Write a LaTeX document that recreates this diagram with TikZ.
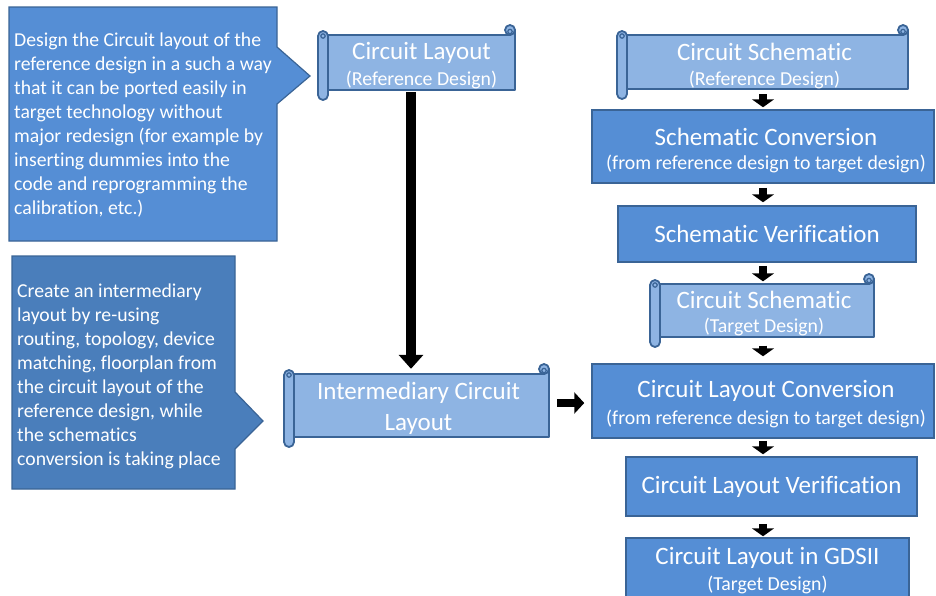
\documentclass[tikz,border=0pt]{standalone}
\usepackage{fontspec}
\setmainfont{Carlito}[Ligatures=NoCommon]
\usetikzlibrary{arrows.meta,calc}
\definecolor{boxblue}{HTML}{558ED5}
\definecolor{callA}{HTML}{558ED5}
\definecolor{callB}{HTML}{4A7EBB}
\definecolor{scrollblue}{HTML}{8EB4E3}
\definecolor{edgeblue}{HTML}{3A6496}
\newcommand{\mytitle}{\fontsize{25}{27}\selectfont}
\newcommand{\mysub}{\fontsize{19.8}{27}\selectfont}
\newcommand{\scrollshape}[4]{%
  \draw[scrollbody] (#1+10,#2+10) -- (#3-5,#2+10) -- (#3,#2+5) -- (#3,#4-10) -- (#1+10,#4-10) -- cycle;
  \draw[scrollbody] (#3-5,#2+5) circle[radius=5];
  \draw[scrollcurl] (#3-5,#2+6.5) circle[radius=2.2];
  \draw[scrollbody, rounded corners=5pt] (#1,#2+6) rectangle (#1+10,#4);
  \draw[scrollcurl] (#1+5,#2+11) circle[radius=2.2];
}
\tikzset{
  scrollbody/.style={draw=edgeblue, line width=1.8pt, fill=scrollblue, line join=round},
  scrollcurl/.style={draw=edgeblue, line width=1.2pt, fill=scrollblue},
  procbox/.style={draw=edgeblue, line width=1.5pt, fill=boxblue, inner sep=0pt},
  scrollarea/.style={inner sep=0pt},
  boxtext/.style={inner sep=0pt, text=white, align=center},
  calloutshape/.style={draw=edgeblue, line width=1.2pt, line join=miter},
  callouttext/.style={inner sep=0pt, text=white, align=left, anchor=north west, font=\fontsize{19.7}{24}\selectfont},
  smallarrow/.style={line width=8pt, draw=black, -{Triangle[width=22pt,length=8pt]}},
  medarrow/.style={line width=8pt, draw=black, -{Triangle[width=21pt,length=10pt]}},
  bigarrow/.style={line width=10pt, draw=black, -{Triangle[width=24pt,length=14pt]}},
}
\begin{document}
\begin{tikzpicture}[x=1pt,y=-1pt]
\useasboundingbox (0,0) rectangle (936,595);
\clip (0,0) rectangle (936,595);
\fill[white] (0,0) rectangle (936,595);

% callouts
\draw[calloutshape, fill=callA] (9,7) -- (277,7) -- (277,47) -- (310,76) -- (277,104) -- (277,241) -- (9,241) -- cycle;
\node[callouttext] (c1) at (14,33) {Design the Circuit layout of the\\reference design in a such a way\\that it can be ported easily in\\target technology without\\major redesign (for example by\\inserting dummies into the\\code and reprogramming the\\calibration, etc.)};

\draw[calloutshape, fill=callB] (12,256) -- (235,256) -- (235,392) -- (263,421) -- (235,449) -- (235,489) -- (12,489) -- cycle;
\node[callouttext] (c2) at (17,284) {Create an intermediary\\layout by re-using\\routing, topology, device\\matching, floorplan from\\the circuit layout of the\\reference design, while\\the schematics\\conversion is taking place};

% scrolls
\scrollshape{318}{25}{515}{100}
\node[scrollarea, minimum width=187pt, minimum height=55pt] (s1) at (421.5,62.5) {};
\node[boxtext] (s1t) at ($(s1.center)+(0,3)$) {\mytitle Circuit Layout\\[7pt]\mysub (Reference Design)};

\scrollshape{617}{25}{908}{99}
\node[scrollarea, minimum width=281pt, minimum height=54pt] (s2) at (767.5,62) {};
\node[boxtext] (s2t) at ($(s2.center)+(-3,4)$) {\mytitle Circuit Schematic\\[9pt]\mysub (Reference Design)};

\scrollshape{650}{274}{874}{347}
\node[scrollarea, minimum width=214pt, minimum height=53pt] (s3) at (767,311) {};
\node[boxtext] (s3t) at ($(s3.center)+(-3,2.5)$) {\mytitle Circuit Schematic\\[8pt]\mysub (Target Design)};

\scrollshape{284}{364}{549}{447}
\node[scrollarea, minimum width=255pt, minimum height=63pt] (s4) at (421.5,405.5) {};
\node[boxtext, font=\fontsize{25}{31}\selectfont] (s4t) at ($(s4.center)+(-3,3)$) {Intermediary Circuit\\Layout};

% process boxes
\node[procbox, minimum width=342pt, minimum height=73pt] (b1) at (763,146.5) {};
\node[boxtext] (b1t) at ($(b1.center)+(3,4)$) {\mytitle Schematic Conversion\\[9pt]\mysub (from reference design to target design)};
\node[procbox, minimum width=298pt, minimum height=56pt] (b2) at (767,234) {};
\node[boxtext, font=\mytitle] (b2t) at (b2.center) {Schematic Verification};
\node[procbox, minimum width=342pt, minimum height=74pt] (b3) at (763,401) {};
\node[boxtext] (b3t) at ($(b3.center)+(3,3)$) {\mytitle Circuit Layout Conversion\\[8pt]\mysub (from reference design to target design)};
\node[procbox, minimum width=291pt, minimum height=59pt] (b4) at (771.5,486.5) {};
\node[boxtext, font=\mytitle] (b4t) at (b4.center) {Circuit Layout Verification};
\node[procbox, minimum width=283pt, minimum height=64pt] (b5) at (767.5,570) {};
\node[boxtext] (b5t) at ($(b5.center)+(0,0.5)$) {\mytitle Circuit Layout in GDSII\\[6pt]\mysub (Target Design)};

% connectors
\coordinate (vx) at (411,0);
\coordinate (hy) at (0,403);
\coordinate (sx) at (763,0);
\draw[bigarrow, shorten <=2pt, shorten >=5pt] (s1.south -| vx) -- (s4.north -| vx);
\draw[medarrow, shorten <=8pt, shorten >=7pt] (s4.east |- hy) -- (b3.west |- hy);
\draw[smallarrow, shorten <=5pt, shorten >=2pt] (s2.south -| sx) -- (b1.north -| sx);
\draw[smallarrow, shorten <=4pt, shorten >=3pt] (b1.south -| sx) -- (b2.north -| sx);
\draw[smallarrow, shorten <=3pt, shorten >=3pt] (b2.south -| sx) -- (s3.north -| sx);
\draw[smallarrow, shorten <=8pt, shorten >=7pt] (s3.south -| sx) -- (b3.north -| sx);
\draw[smallarrow, shorten <=2pt, shorten >=2pt] (b3.south -| sx) -- (b4.north -| sx);
\draw[smallarrow, shorten <=7pt, shorten >=1pt] (b4.south -| sx) -- (b5.north -| sx);
\end{tikzpicture}
\end{document}
